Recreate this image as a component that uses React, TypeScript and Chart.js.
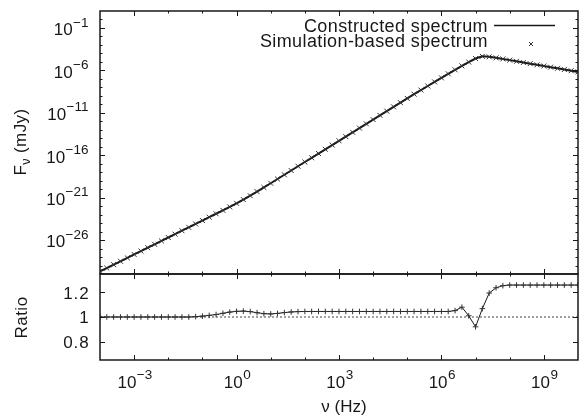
import React, { useEffect, useRef } from 'react';
import { Chart, registerables } from 'chart.js';

Chart.register(...registerables);

// ---------- data ----------
const frequencyHz = [
  1e-4, 1.58e-4, 2.51e-4, 3.98e-4, 6.31e-4,
  1e-3, 1.58e-3, 2.51e-3, 3.98e-3, 6.31e-3,
  1e-2, 1.58e-2, 2.51e-2, 3.98e-2, 6.31e-2,
  1e-1, 1.58e-1, 2.51e-1, 3.98e-1, 6.31e-1,
  1e0, 1.58e0, 2.51e0, 3.98e0, 6.31e0,
  1e1, 1.58e1, 2.51e1, 3.98e1, 6.31e1,
  1e2, 1.58e2, 2.51e2, 3.98e2, 6.31e2,
  1e3, 1.58e3, 2.51e3, 3.98e3, 6.31e3,
  1e4, 1.58e4, 2.51e4, 3.98e4, 6.31e4,
  1e5, 1.58e5, 2.51e5, 3.98e5, 6.31e5,
  1e6, 1.58e6, 2.51e6, 3.98e6, 6.31e6,
  1e7, 1.58e7, 2.51e7, 3.98e7, 6.31e7,
  1e8, 1.58e8, 2.51e8, 3.98e8, 6.31e8,
  1e9, 1.58e9, 2.51e9, 3.98e9, 6.31e9,
  1e10,
];

// F_nu (mJy)
const fluxMJy = [
  2.0e-30, 5.0e-30, 1.26e-29, 3.16e-29, 7.94e-29,
  2.0e-28, 5.0e-28, 1.26e-27, 3.16e-27, 7.94e-27,
  2.0e-26, 5.0e-26, 1.26e-25, 3.16e-25, 7.94e-25,
  2.0e-24, 5.0e-24, 1.26e-23, 3.16e-23, 8.1e-23,
  2.14e-22, 5.9e-22, 1.7e-21, 5.1e-21, 1.58e-20,
  5.0e-20, 1.58e-19, 5.0e-19, 1.58e-18, 5.0e-18,
  1.58e-17, 5.0e-17, 1.58e-16, 5.0e-16, 1.58e-15,
  5.0e-15, 1.58e-14, 5.0e-14, 1.58e-13, 5.0e-13,
  1.58e-12, 5.0e-12, 1.58e-11, 5.0e-11, 1.58e-10,
  5.0e-10, 1.58e-9, 4.8e-9, 1.45e-8, 4.4e-8,
  1.32e-7, 3.98e-7, 1.17e-6, 3.4e-6, 9.5e-6,
  2.51e-5, 4.5e-5, 3.98e-5, 3.0e-5, 2.24e-5,
  1.62e-5, 1.17e-5, 8.5e-6, 6.2e-6, 4.5e-6,
  3.3e-6, 2.4e-6, 1.74e-6, 1.26e-6, 9.1e-7,
  6.6e-7,
];

// simulation / constructed ratio
const ratioValues = [
  1, 1, 1, 1, 1,
  1, 1, 1, 1, 1,
  1, 1, 1, 1, 1.003,
  1.007, 1.013, 1.02, 1.03, 1.04,
  1.046, 1.048, 1.044, 1.035, 1.027,
  1.025, 1.029, 1.036, 1.041, 1.044,
  1.045, 1.045, 1.045, 1.045, 1.045,
  1.045, 1.045, 1.045, 1.045, 1.045,
  1.045, 1.045, 1.045, 1.045, 1.045,
  1.045, 1.045, 1.045, 1.045, 1.045,
  1.045, 1.045, 1.052, 1.08, 1.01,
  0.92, 1.068, 1.195, 1.238, 1.255,
  1.26, 1.26, 1.26, 1.26, 1.26,
  1.26, 1.26, 1.26, 1.26, 1.26,
  1.26,
];

const xLabelExponents = [-3, 0, 3, 6, 9];
const xMinorExponents = [-2, -1, 1, 2, 4, 5, 7, 8];
const fluxLabelExponents = [-1, -6, -11, -16, -21, -26];
const fluxMinorExponents = [
  0, -2, -3, -4, -5, -7, -8, -9, -10, -12, -13, -14, -15,
  -17, -18, -19, -20, -22, -23, -24, -25, -27, -28, -29,
];
const ratioTickValues = [0.8, 1, 1.2];
const ratioTickLabels = ['0.8', '1', '1.2'];

const legendLabels = ['Constructed spectrum', 'Simulation-based spectrum'];

// ---------- style ----------
const FONT = '"Liberation Sans", Arial, Helvetica, sans-serif';
const INK = '#181818';
const MAJOR = 5;
const MINOR = 2.5;

function setSpacing(ctx: any, px: number) {
  try {
    ctx.letterSpacing = `${px}px`;
  } catch (e) {
    /* ignore */
  }
}

function drawPow(ctx: CanvasRenderingContext2D, exp: number, x: number, baseline: number, align: 'right' | 'center') {
  const base = '10';
  const sup = exp < 0 ? '\u2212' + Math.abs(exp) : String(exp);
  ctx.font = `17px ${FONT}`;
  const wb = ctx.measureText(base).width;
  ctx.font = `13.5px ${FONT}`;
  const ws = ctx.measureText(sup).width;
  const total = wb + ws + 0.5;
  const x0 = align === 'right' ? x - total : x - total / 2;
  ctx.textAlign = 'left';
  ctx.textBaseline = 'alphabetic';
  ctx.fillStyle = INK;
  ctx.font = `17px ${FONT}`;
  ctx.fillText(base, x0, baseline);
  ctx.font = `13.5px ${FONT}`;
  ctx.fillText(sup, x0 + wb + 0.5, baseline - 8.8);
}

function drawXTicks(ctx: CanvasRenderingContext2D, chart: any) {
  const xs = chart.scales.x;
  const { top, bottom } = chart.chartArea;
  ctx.strokeStyle = INK;
  ctx.lineWidth = 1;
  const tick = (e: number, len: number) => {
    const px = Math.round(xs.getPixelForValue(Math.pow(10, e))) + 0.5;
    ctx.beginPath();
    ctx.moveTo(px, bottom);
    ctx.lineTo(px, bottom - len);
    ctx.moveTo(px, top);
    ctx.lineTo(px, top + len);
    ctx.stroke();
  };
  xLabelExponents.forEach((e) => tick(e, MAJOR));
  xMinorExponents.forEach((e) => tick(e, MINOR));
}

function drawYTick(ctx: CanvasRenderingContext2D, chart: any, py: number, len: number) {
  const { left, right } = chart.chartArea;
  const y = Math.round(py) + 0.5;
  ctx.beginPath();
  ctx.moveTo(left, y);
  ctx.lineTo(left + len, y);
  ctx.moveTo(right, y);
  ctx.lineTo(right - len, y);
  ctx.stroke();
}

function drawFrame(ctx: CanvasRenderingContext2D, chart: any) {
  const { left, right, top, bottom } = chart.chartArea;
  ctx.strokeStyle = INK;
  ctx.lineWidth = 1.5;
  ctx.strokeRect(left, top, right - left, bottom - top);
}

const topDecor = {
  id: 'topDecor',
  afterDraw(chart: any) {
    const ctx: CanvasRenderingContext2D = chart.ctx;
    const ys = chart.scales.y;
    ctx.save();
    drawFrame(ctx, chart);
    drawXTicks(ctx, chart);
    ctx.lineWidth = 1;
    fluxLabelExponents.forEach((e) => drawYTick(ctx, chart, ys.getPixelForValue(Math.pow(10, e)), MAJOR));
    fluxMinorExponents.forEach((e) => drawYTick(ctx, chart, ys.getPixelForValue(Math.pow(10, e)), MINOR));
    fluxLabelExponents.forEach((e) => drawPow(ctx, e, 88.5, ys.getPixelForValue(Math.pow(10, e)) + 7.4, 'right'));

    // y title: F_nu (mJy)
    ctx.translate(26, 142);
    ctx.rotate(-Math.PI / 2);
    ctx.fillStyle = INK;
    ctx.textBaseline = 'alphabetic';
    ctx.textAlign = 'left';
    setSpacing(ctx, 0.4);
    ctx.font = `17px ${FONT}`;
    const wF = ctx.measureText('F').width;
    const wRest = ctx.measureText(' (mJy)').width;
    ctx.font = `12.5px ${FONT}`;
    const wNu = ctx.measureText('\u03bd').width;
    const total = wF + wNu + wRest;
    const x0 = -total / 2;
    ctx.font = `17px ${FONT}`;
    ctx.fillText('F', x0, 0);
    ctx.font = `12.5px ${FONT}`;
    ctx.fillText('\u03bd', x0 + wF, 4);
    ctx.font = `17px ${FONT}`;
    ctx.fillText(' (mJy)', x0 + wF + wNu, 0);
    setSpacing(ctx, 0);
    ctx.restore();

    // legend
    ctx.save();
    ctx.fillStyle = INK;
    setSpacing(ctx, 0.4);
    ctx.font = `18px ${FONT}`;
    ctx.textAlign = 'right';
    ctx.textBaseline = 'alphabetic';
    ctx.fillText(legendLabels[0], 488, 31.5);
    ctx.fillText(legendLabels[1], 488, 46.5);
    setSpacing(ctx, 0);
    ctx.strokeStyle = INK;
    ctx.lineWidth = 1.6;
    ctx.beginPath();
    ctx.moveTo(494, 25.5);
    ctx.lineTo(555, 25.5);
    ctx.stroke();
    ctx.lineWidth = 1;
    ctx.strokeStyle = '#333';
    ctx.beginPath();
    ctx.moveTo(529, 42);
    ctx.lineTo(533, 46);
    ctx.moveTo(533, 42);
    ctx.lineTo(529, 46);
    ctx.stroke();
    ctx.restore();
  },
};

const bottomDecor = {
  id: 'bottomDecor',
  afterDraw(chart: any) {
    const ctx: CanvasRenderingContext2D = chart.ctx;
    const xs = chart.scales.x;
    const ys = chart.scales.y;
    ctx.save();
    drawFrame(ctx, chart);
    drawXTicks(ctx, chart);
    ctx.lineWidth = 1;
    ratioTickValues.forEach((v) => drawYTick(ctx, chart, ys.getPixelForValue(v), MAJOR));

    ctx.fillStyle = INK;
    ctx.font = `17px ${FONT}`;
    ctx.textAlign = 'right';
    ctx.textBaseline = 'alphabetic';
    setSpacing(ctx, 0.9);
    ratioTickValues.forEach((v, i) => {
      ctx.fillText(ratioTickLabels[i], 89.5, ys.getPixelForValue(v) + 6.2);
    });
    setSpacing(ctx, 0);

    xLabelExponents.forEach((e) => drawPow(ctx, e, xs.getPixelForValue(Math.pow(10, e)) + 0.7, 387.7, 'center'));

    // x title
    ctx.fillStyle = INK;
    ctx.font = `17px ${FONT}`;
    ctx.textAlign = 'center';
    ctx.textBaseline = 'alphabetic';
    ctx.fillText('\u03bd (Hz)', 344, 412);

    // Ratio title
    ctx.translate(27, 317.5);
    ctx.rotate(-Math.PI / 2);
    ctx.textAlign = 'center';
    setSpacing(ctx, 0.5);
    ctx.fillText('Ratio', 0, 0);
    setSpacing(ctx, 0);
    ctx.restore();
  },
};

export default function App() {
  const topRef = useRef<HTMLCanvasElement>(null);
  const botRef = useRef<HTMLCanvasElement>(null);

  useEffect(() => {
    const spectrumPoints = frequencyHz.map((f, i) => ({ x: f, y: fluxMJy[i] }));
    const ratioPoints = frequencyHz.map((f, i) => ({ x: f, y: ratioValues[i] }));

    const top = new Chart(topRef.current!, {
      type: 'line',
      data: {
        datasets: [
          {
            label: legendLabels[0],
            data: spectrumPoints,
            borderColor: INK,
            borderWidth: 2,
            pointRadius: 0,
            tension: 0,
            order: 2,
          },
          {
            label: legendLabels[1],
            data: spectrumPoints,
            showLine: false,
            pointStyle: 'crossRot',
            pointRadius: 3.5,
            pointBorderWidth: 1,
            pointBorderColor: '#333',
            borderColor: '#333',
            order: 1,
          },
        ],
      },
      options: {
        animation: false,
        responsive: false,
        events: [],
        layout: { padding: { left: 100, top: 11, right: 10, bottom: 144 } },
        plugins: { legend: { display: false }, tooltip: { enabled: false } },
        scales: {
          x: { type: 'logarithmic', min: 1e-4, max: 1e10, display: false },
          y: { type: 'logarithmic', min: 1e-30, max: 10, display: false },
        },
      },
      plugins: [topDecor],
    } as any);

    const bot = new Chart(botRef.current!, {
      type: 'line',
      data: {
        datasets: [
          {
            label: 'unity',
            data: [
              { x: 1e-4, y: 1 },
              { x: 1e10, y: 1 },
            ],
            borderColor: '#444',
            borderWidth: 1,
            borderDash: [2, 2],
            pointRadius: 0,
            order: 2,
          },
          {
            label: 'Ratio',
            data: ratioPoints,
            borderColor: INK,
            borderWidth: 1,
            pointStyle: 'cross',
            pointRadius: 2.8,
            pointBorderWidth: 1,
            pointBorderColor: '#333',
            tension: 0,
            order: 1,
          },
        ],
      },
      options: {
        animation: false,
        responsive: false,
        events: [],
        layout: { padding: { left: 100, top: 274, right: 10, bottom: 58 } },
        plugins: { legend: { display: false }, tooltip: { enabled: false } },
        scales: {
          x: { type: 'logarithmic', min: 1e-4, max: 1e10, display: false },
          y: { type: 'linear', min: 0.65, max: 1.35, display: false },
        },
      },
      plugins: [bottomDecor],
    } as any);

    return () => {
      top.destroy();
      bot.destroy();
    };
  }, []);

  return (
    <div style={{ position: 'fixed', left: 0, top: 0, width: 588, height: 418, background: '#fff' }}>
      <canvas ref={topRef} width={588} height={418} style={{ position: 'absolute', left: 0, top: 0 }} />
      <canvas ref={botRef} width={588} height={418} style={{ position: 'absolute', left: 0, top: 0 }} />
    </div>
  );
}
